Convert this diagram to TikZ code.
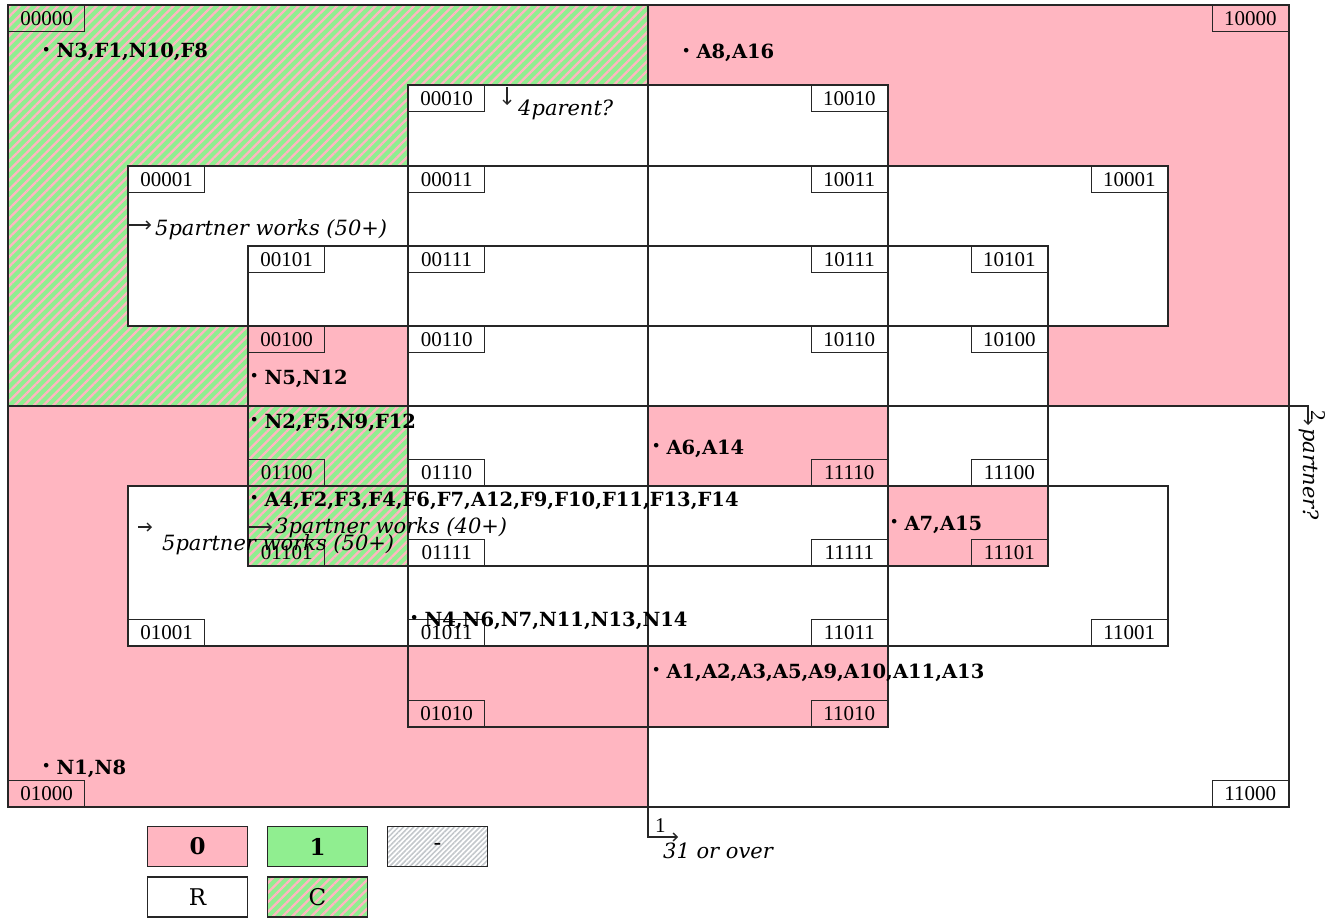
\documentclass[tikz,border=0pt]{standalone}
\usepackage{fontspec}
\setmainfont{DejaVu Serif}
\newfontfamily\codefont{Liberation Serif}
\usetikzlibrary{patterns.meta,arrows.meta}
\definecolor{lpink}{HTML}{FFB6C1}
\definecolor{lgreen}{HTML}{90EE90}
\definecolor{hgray}{HTML}{C4C8CC}
\definecolor{edge}{HTML}{262626}
\newcommand\bul{\raisebox{3.5pt}{\fontsize{13}{13}\selectfont\textbullet}\hspace{6pt}}
\tikzset{
  hatchC/.style={preaction={fill=lgreen}, pattern={Lines[angle=45,distance=6.8pt,line width=2.3pt]}, pattern color=lpink},
  hatchD/.style={preaction={fill=white}, pattern={Lines[angle=45,distance=3.6pt,line width=1.6pt]}, pattern color=hgray},
  zero/.style={fill=lpink},
  blank/.style={fill=white},
  grid/.style={draw=edge, line width=1.6pt},
  codebox/.style={draw=edge, line width=1.4pt, minimum width=76pt, minimum height=26pt, inner sep=0pt, font=\codefont\fontsize{21}{21}\selectfont},
  datum/.style={anchor=base west, inner sep=0pt, font=\bfseries\fontsize{19.5}{20}\selectfont},
  ital/.style={anchor=base west, inner sep=0pt, font=\itshape\fontsize{21}{21}\selectfont},
  plain/.style={anchor=base west, inner sep=0pt, font=\codefont\fontsize{21}{21}\selectfont},
  pointer/.style={draw=edge, line width=1.3pt, -{Straight Barb[length=4pt,width=8pt]}},
  legbox/.style={draw=edge, line width=1.4pt, minimum width=100pt, minimum height=40pt, inner sep=0pt, font=\fontsize{23}{23}\selectfont},
}
\begin{document}
\begin{tikzpicture}[x=1pt,y=-1pt]
\useasboundingbox (0,0) rectangle (1344,920);
% quadrants
\path[hatchC] (8,5) rectangle (648,406);
\path[zero] (648,5) rectangle (1289,406);
\path[zero] (8,406) rectangle (648,807);
\path[blank] (648,406) rectangle (1289,807);
% inner rectangles white
\path[blank] (408,85) rectangle (888,727);
\path[blank] (128,166) rectangle (1168,326);
\path[blank] (128,486) rectangle (1168,646);
\path[blank] (248,246) rectangle (1048,566);
% special cells
\path[zero] (248,326) rectangle (408,406);
\path[hatchC] (248,406) rectangle (408,566);
\path[zero] (648,406) rectangle (888,486);
\path[zero] (888,486) rectangle (1048,566);
\path[zero] (408,646) rectangle (648,727);
\path[zero] (648,646) rectangle (888,727);
% grid lines
\draw[grid] (8,5) rectangle (1289,807);
\draw[grid] (648,5) -- (648,807);
\draw[grid] (8,406) -- (1289,406);
\draw[grid] (408,85) rectangle (888,727);
\draw[grid] (128,166) rectangle (1168,326);
\draw[grid] (128,486) rectangle (1168,646);
\draw[grid] (248,246) rectangle (1048,566);
% code labels
\foreach \n/\x/\y in {00000/8/5,00010/408/85,00001/128/166,00011/408/166,00101/248/246,00111/408/246,00100/248/326,00110/408/326}
  \node[codebox, anchor=north west] (c\n) at (\x,\y) {\n};
\foreach \n/\x/\y in {10000/1289/5,10010/888/85,10011/888/166,10001/1168/166,10111/888/246,10101/1048/246,10110/888/326,10100/1048/326}
  \node[codebox, anchor=north east] (c\n) at (\x,\y) {\n};
\foreach \n/\x/\y in {01100/248/486,01110/408/486,01101/248/566,01111/408/566,01001/128/646,01011/408/646,01010/408/727,01000/8/807}
  \node[codebox, anchor=south west] (c\n) at (\x,\y) {\n};
\foreach \n/\x/\y in {11110/888/486,11100/1048/486,11111/888/566,11101/1048/566,11011/888/646,11001/1168/646,11010/888/727,11000/1289/807}
  \node[codebox, anchor=south east] (c\n) at (\x,\y) {\n};
% data
\node[datum] (d1) at (42,58) {\bul N3,F1,N10,F8};
\node[datum] (d2) at (682,59) {\bul A8,A16};
\node[datum] (d3) at (250,384) {\bul N5,N12};
\node[datum] (d4) at (250,428) {\bul N2,F5,N9,F12};
\node[datum] (d5) at (652,454) {\bul A6,A14};
\node[datum] (d6) at (250,506) {\bul A4,F2,F3,F4,F6,F7,A12,F9,F10,F11,F13,F14};
\node[datum] (d7) at (890,530) {\bul A7,A15};
\node[datum] (d8) at (410,626) {\bul N4,N6,N7,N11,N13,N14};
\node[datum] (d9) at (652,678) {\bul A1,A2,A3,A5,A9,A10,A11,A13};
\node[datum] (d10) at (42,774) {\bul N1,N8};
% annotations
\coordinate (a4s) at (507,87); \coordinate (a4e) at (507,105);
\draw[pointer] (a4s) -- (a4e);
\node[ital] (t4) at (518,116) {4parent?};
\coordinate (a5s) at (128,225); \coordinate (a5e) at (151,225);
\draw[pointer] (a5s) -- (a5e);
\node[ital] (t5) at (155,236) {5partner works (50+)};
\coordinate (b5s) at (138,527); \coordinate (b5e) at (152,527);
\draw[pointer] (b5s) -- (b5e);
\node[ital] (u5) at (162,550) {5partner works (50+)};
\coordinate (a3s) at (249,527); \coordinate (a3e) at (272,527);
\draw[pointer] (a3s) -- (a3e);
\node[ital] (t3) at (275,533) {3partner works (40+)};
% variable 1
\coordinate (v1a) at (648,807); \coordinate (v1b) at (648,837); \coordinate (v1c) at (678,837);
\draw[pointer] (v1a) -- (v1b) -- (v1c);
\node[plain] (t1) at (655,832) {1};
\node[ital] (t1b) at (663,858) {31 or over};
% variable 2
\coordinate (v2a) at (1289,406); \coordinate (v2b) at (1308,406); \coordinate (v2c) at (1308,425);
\draw[pointer] (v2a) -- (v2b) -- (v2c);
\node[plain, rotate=-90] (t2) at (1311,410) {2};
\node[ital, rotate=-90] (t2b) at (1303,428) {partner?};
% legend
\node[legbox, zero] (l0) at (197.5,846.5) {\bfseries 0};
\node[legbox, fill=lgreen] (l1) at (317.5,846.5) {\bfseries 1};
\node[legbox, hatchD] (ld) at (437.5,846.5) {-};
\node[legbox, blank] (lR) at (197.5,897) {R};
\node[legbox, hatchC] (lC) at (317.5,897) {C};
\end{tikzpicture}
\end{document}
